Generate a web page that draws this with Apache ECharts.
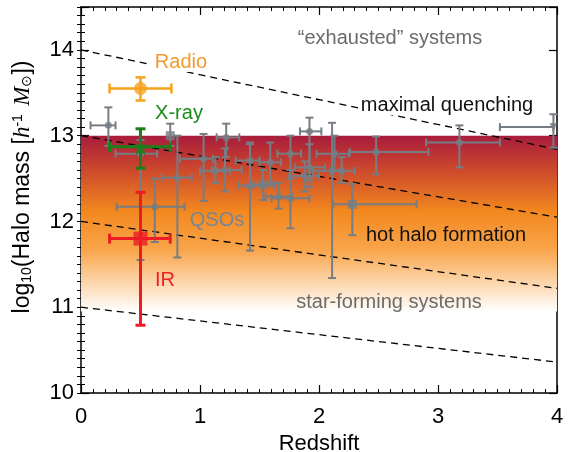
<!DOCTYPE html>
<html><head><meta charset="utf-8">
<script src="https://cdn.jsdelivr.net/npm/echarts@6/dist/echarts.min.js"></script>
<style>html,body{margin:0;padding:0;background:#fff}#c{width:573px;height:452px}</style>
</head><body><div id="c"></div>
<script>
// ---- data ----
const xRange = [0, 4];
const yRange = [10, 14.5];
const xTicks = [0, 1, 2, 3, 4];
const yTicks = [10, 11, 12, 13, 14];

// dashed boundary lines: value at z=0 and z=4
const boundaryZ = [0, 4];
const maxQuench = [14.0, 12.84];
const hotHalo = [13.0, 12.05];
const starForm = [12.0, 11.22];
const lowBound = [11.0, 10.36];

// shaded band (log M)
const bandTop = 13.0;
const bandBottom = 10.95;

// QSO clustering measurements
const qsoZ    = [0.23, 0.75, 0.50, 0.81, 0.62, 1.03, 1.13, 1.22, 1.21, 1.42, 1.42, 1.53, 1.59, 1.66, 1.76, 1.76, 1.88, 1.92, 1.92, 2.11, 2.19, 2.13, 2.28, 2.48, 3.18, 3.97];
const qsoM    = [13.12, 13.00, 12.79, 12.51, 12.17, 12.73, 12.59, 12.98, 12.60, 12.71, 12.42, 12.43, 12.69, 12.29, 12.27, 12.79, 12.53, 13.05, 12.63, 12.59, 12.59, 12.79, 12.20, 12.81, 12.92, 13.10];
const qsoZlo  = [0.08, 0.75, 0.29, 0.68, 0.30, 0.83, 1.00, 1.14, 1.10, 1.30, 1.32, 1.45, 1.50, 1.55, 1.60, 1.65, 1.75, 1.84, 1.80, 1.95, 2.10, 1.98, 2.12, 2.26, 2.90, 3.52];
const qsoZhi  = [0.29, 0.75, 0.64, 0.93, 0.87, 1.11, 1.25, 1.33, 1.35, 1.50, 1.63, 1.62, 1.68, 1.78, 1.92, 1.85, 2.00, 2.02, 2.05, 2.20, 2.30, 2.25, 2.82, 2.92, 3.52, 3.97];
const qsoMlo  = [12.88, 12.88, 11.55, 11.58, 11.76, 12.24, 12.45, 12.75, 12.35, 12.40, 11.66, 12.25, 12.45, 12.15, 11.92, 12.50, 12.35, 12.48, 12.40, 11.34, 12.45, 12.60, 11.84, 12.55, 12.63, 12.86];
const qsoMhi  = [13.33, 13.14, 12.95, 13.00, 12.50, 13.02, 12.75, 13.14, 12.85, 12.92, 12.90, 12.60, 12.92, 12.45, 12.60, 13.00, 12.70, 13.21, 12.90, 13.15, 12.75, 13.00, 12.44, 12.99, 13.12, 13.25];
const qsoShape = ['circle','rect','circle','circle','circle','circle','circle','circle','circle','circle','circle','rect','circle','circle','circle','circle','circle','circle','circle','circle','circle','circle','rect','circle','circle','triangle'];

// AGN selected samples: [z, logM, zlo, zhi, mlo, mhi]
const radioPt = [0.50, 13.55, 0.24, 0.76, 13.41, 13.68];
const xrayPt  = [0.50, 12.87, 0.24, 0.75, 12.62, 13.08];
const irPt    = [0.50, 11.80, 0.24, 0.75, 10.79, 12.34];

// ---- chart ----
const GRAY = '#767d84';
const qsoRows = qsoZ.map((z, i) => [z, qsoM[i], qsoZlo[i], qsoZhi[i], qsoMlo[i], qsoMhi[i]]);

function errRender(color, lw, cap) {
  return function (params, api) {
    const x = api.value(0), y = api.value(1);
    const xl = api.value(2), xh = api.value(3), yl = api.value(4), yh = api.value(5);
    const pL = api.coord([xl, y]), pR = api.coord([xh, y]);
    const pB = api.coord([x, yl]), pT = api.coord([x, yh]);
    const st = { stroke: color, lineWidth: lw, fill: null };
    const ch = [];
    const ln = (x1, y1, x2, y2) => ch.push({ type: 'line', shape: { x1, y1, x2, y2 }, style: st });
    if (xh > xl) {
      ln(pL[0], pL[1], pR[0], pR[1]);
      ln(pL[0], pL[1] - cap, pL[0], pL[1] + cap);
      ln(pR[0], pR[1] - cap, pR[0], pR[1] + cap);
    }
    ln(pB[0], pB[1], pT[0], pT[1]);
    ln(pB[0] - cap, pB[1], pB[0] + cap, pB[1]);
    ln(pT[0] - cap, pT[1], pT[0] + cap, pT[1]);
    return { type: 'group', children: ch };
  };
}

function lineSeries(vals) {
  return {
    type: 'line', xAxisIndex: 0, yAxisIndex: 0, symbol: 'none', silent: true, z: 3,
    data: boundaryZ.map((z, i) => [z, vals[i]]),
    lineStyle: { color: '#000', width: 1.3, type: [7, 5] }
  };
}

const STAR = 'path://M50,0 L61,35 L98,35 L68,57 L79,91 L50,70 L21,91 L32,57 L2,35 L39,35 Z';

const chart = echarts.init(document.getElementById('c'), null, { renderer: 'canvas' });
const baseX = { type: 'value', min: xRange[0], max: xRange[1], interval: 1, splitLine: { show: false } };
const baseY = { type: 'value', min: yRange[0], max: yRange[1], splitLine: { show: false } };
const axLine = { show: true, onZero: false, lineStyle: { color: '#000', width: 1.5 } };

chart.setOption({
  animation: false,
  backgroundColor: '#fff',
  grid: { left: 81, right: 16, top: 7, bottom: 59, containLabel: false, outerBoundsMode: 'none' },
  textStyle: { fontFamily: 'Liberation Sans, Arial, sans-serif' },
  xAxis: [
    Object.assign({}, baseX, {
      position: 'bottom', axisLine: axLine,
      axisTick: { inside: true, length: 8, lineStyle: { color: '#000', width: 1.2 } },
      minorTick: { show: true, splitNumber: 10, length: 4, lineStyle: { color: '#000', width: 1 } },
      axisLabel: { fontSize: 22, color: '#000', margin: 13, formatter: v => xTicks.includes(v) ? String(v) : '' },
      name: 'Redshift', nameLocation: 'middle', nameGap: 36,
      nameTextStyle: { fontSize: 22, color: '#000' }
    }),
    Object.assign({}, baseX, {
      position: 'top', axisLine: axLine,
      axisTick: { inside: true, length: 8, lineStyle: { color: '#000', width: 1.2 } },
      minorTick: { show: true, splitNumber: 10, length: 4, lineStyle: { color: '#000', width: 1 } },
      axisLabel: { show: false }
    })
  ],
  yAxis: [
    Object.assign({}, baseY, {
      position: 'left', interval: 1, axisLine: axLine,
      axisTick: { inside: true, length: 8, lineStyle: { color: '#000', width: 1.2 } },
      axisLabel: { fontSize: 22, color: '#000', margin: 7, formatter: v => yTicks.includes(v) ? String(v) : '' },
      name: '{t|log}{s|10}{t|(Halo mass [}{i|h}{p|-1}{t| }{i|M}{s|⊙}{t|])}',
      nameLocation: 'middle', nameGap: 47, nameRotate: 90,
      nameTextStyle: {
        color: '#000',
        padding: [0, 0, 0, 26],
        rich: {
          t: { fontSize: 23, color: '#000', fontFamily: 'Liberation Sans, Arial' },
          s: { fontSize: 14, color: '#000', verticalAlign: 'bottom', padding: [8, 0, 0, 0] },
          p: { fontSize: 14, color: '#000', verticalAlign: 'top', padding: [0, 2, 8, 0] },
          i: { fontSize: 23, color: '#000', fontStyle: 'italic', fontFamily: 'Liberation Serif, Times New Roman' }
        }
      }
    }),
    Object.assign({}, baseY, {
      position: 'left', interval: 0.1, axisLine: { show: false },
      axisTick: { inside: true, length: 4, lineStyle: { color: '#000', width: 1 } },
      axisLabel: { show: false }
    }),
    Object.assign({}, baseY, {
      position: 'right', interval: 1, axisLine: axLine,
      axisTick: { inside: true, length: 8, lineStyle: { color: '#000', width: 1.2 } },
      axisLabel: { show: false }
    }),
    Object.assign({}, baseY, {
      position: 'right', interval: 0.1, axisLine: { show: false },
      axisTick: { inside: true, length: 4, lineStyle: { color: '#000', width: 1 } },
      axisLabel: { show: false }
    })
  ],
  series: [
    {
      type: 'line', xAxisIndex: 0, yAxisIndex: 0, data: [], silent: true, z: 1,
      markArea: {
        silent: true,
        itemStyle: {
          color: new echarts.graphic.LinearGradient(0, 0, 0, 1, [
            { offset: 0, color: '#a81c3d' },
            { offset: 0.2, color: '#cd4a2c' },
            { offset: 0.43, color: '#f2881f' },
            { offset: 0.65, color: '#f9a54b' },
            { offset: 0.82, color: '#fcd2a4' },
            { offset: 1, color: '#ffffff' }
          ])
        },
        data: [[{ yAxis: bandTop }, { yAxis: bandBottom }]]
      }
    },
    lineSeries(maxQuench),
    lineSeries(hotHalo),
    lineSeries(starForm),
    lineSeries(lowBound),
    {
      type: 'custom', xAxisIndex: 0, yAxisIndex: 0, z: 4, silent: true,
      renderItem: errRender(GRAY, 2, 4), data: qsoRows
    },
    {
      type: 'scatter', xAxisIndex: 0, yAxisIndex: 0, z: 5, silent: true,
      itemStyle: { color: GRAY },
      data: qsoRows.map((r, i) => ({
        value: [r[0], r[1]], symbol: qsoShape[i],
        symbolSize: qsoShape[i] === 'rect' ? 9 : (qsoShape[i] === 'triangle' ? 8 : 7),
        symbolRotate: qsoShape[i] === 'triangle' ? 180 : 0
      }))
    },
    {
      type: 'custom', xAxisIndex: 0, yAxisIndex: 0, z: 6, silent: true,
      renderItem: errRender('#f5a21d', 2.5, 5), data: [radioPt]
    },
    {
      type: 'custom', xAxisIndex: 0, yAxisIndex: 0, z: 6, silent: true,
      renderItem: errRender('#1b7f1b', 3, 5), data: [xrayPt]
    },
    {
      type: 'custom', xAxisIndex: 0, yAxisIndex: 0, z: 6, silent: true,
      renderItem: errRender('#ec1c24', 3, 5), data: [irPt]
    },
    {
      type: 'scatter', xAxisIndex: 0, yAxisIndex: 0, z: 7, silent: true,
      data: [
        { value: [radioPt[0], radioPt[1]], symbol: 'circle', symbolSize: 13, itemStyle: { color: '#f5a21d' } },
        { value: [xrayPt[0], xrayPt[1]], symbol: STAR, symbolSize: 18, itemStyle: { color: '#1b7f1b' } },
        { value: [irPt[0], irPt[1]], symbol: 'rect', symbolSize: 14, itemStyle: { color: '#ec1c24' } }
      ]
    }
  ],
  graphic: [
    { type: 'text', z: 100, x: 181, y: 62, style: { text: 'Radio', fill: '#f39a2e', font: '20px Liberation Sans', align: 'center', verticalAlign: 'middle', backgroundColor: '#fff', padding: [0, 5] } },
    { type: 'text', z: 100, x: 179, y: 113, style: { text: 'X-ray', fill: '#1a8c1a', font: '20px Liberation Sans', align: 'center', verticalAlign: 'middle' } },
    { type: 'text', z: 100, x: 165, y: 280, style: { text: 'IR', fill: '#ec2227', font: '20px Liberation Sans', align: 'center', verticalAlign: 'middle' } },
    { type: 'text', z: 100, x: 217, y: 220, style: { text: 'QSOs', fill: '#7a8591', font: '20px Liberation Sans', align: 'center', verticalAlign: 'middle' } },
    { type: 'text', z: 100, x: 390, y: 38, style: { text: '“exhausted” systems', fill: '#6b6b6b', font: '20px Liberation Sans', align: 'center', verticalAlign: 'middle' } },
    { type: 'text', z: 100, x: 447, y: 105, style: { text: 'maximal quenching', fill: '#111', font: '20px Liberation Sans', align: 'center', verticalAlign: 'middle', backgroundColor: '#fff', padding: [0, 2] } },
    { type: 'text', z: 100, x: 446, y: 235, style: { text: 'hot halo formation', fill: '#111', font: '20px Liberation Sans', align: 'center', verticalAlign: 'middle' } },
    { type: 'text', z: 100, x: 389, y: 302, style: { text: 'star-forming systems', fill: '#6b6b6b', font: '20px Liberation Sans', align: 'center', verticalAlign: 'middle' } }
  ]
});
</script>
</body></html>
